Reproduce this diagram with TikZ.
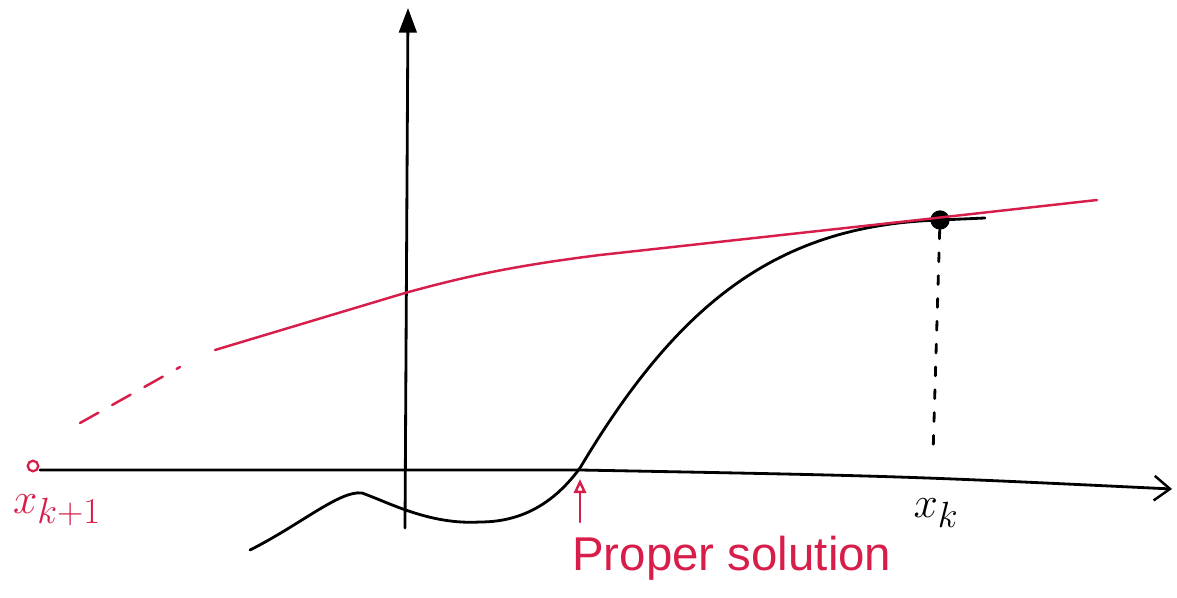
\documentclass[tikz,border=0pt]{standalone}
\usepackage{fontspec}
\setsansfont{Liberation Sans}
\usetikzlibrary{arrows.meta}
\definecolor{pen}{RGB}{215,30,75}
\tikzset{
  ink/.style={black, line width=1.6pt, line cap=round, line join=round},
  redink/.style={pen, line width=1.4pt, line cap=round, line join=round},
  lbl/.style={inner sep=0pt},
}
\begin{document}
\begin{tikzpicture}[x=0.02cm, y=-0.02cm]
\useasboundingbox (0,0) rectangle (1177,598);
% axes
\coordinate (xs) at (40,470);
\coordinate (xm) at (580,470);
\coordinate (xe) at (1172,489);
\draw[ink, -{Straight Barb[length=9pt, width=14pt, line width=1.4pt]}] (xs) -- (xm) .. controls (900,476) .. (xe);
\coordinate (ys) at (405,528);
\coordinate (ye) at (408,8);
\draw[ink, -{Triangle[length=14pt, width=10pt]}] (ys) -- (ye);
% black curve
\coordinate (c0) at (250,550);
\coordinate (c1) at (362,493);
\coordinate (c2) at (480,522);
\coordinate (c3) at (580,468);
\coordinate (c4) at (940,220);
\coordinate (c5) at (985,218);
\draw[ink] (c0) .. controls (300,525) and (340,490) .. (c1)
  .. controls (390,503) and (430,525) .. (c2)
  .. controls (530,522) and (560,495) .. (c3)
  .. controls (680,300) and (780,225) .. (c4)
  -- (c5);
\node[circle, fill=black, minimum size=11pt, inner sep=0pt] (xk) at (c4) {};
% red tangent
\coordinate (t0) at (215,350);
\coordinate (t1) at (1097,200);
\draw[redink] (t0) -- (405,293) .. controls (470,275) and (520,265) .. (600,255) -- (900,222) -- (t1);
\coordinate (d0) at (80,423);
\coordinate (d1) at (180,367);
\draw[redink, dash pattern=on 12pt off 9pt] (d0) -- (d1);
\node[circle, draw=pen, line width=1.3pt, minimum size=6pt, inner sep=0pt] (xk1) at (33,466) {};
% labels
\node[lbl, pen, font=\fontsize{30}{34}\selectfont] (lk1) at (57,510) {$x_{k+1}$};
\draw[ink, dash pattern=on 5pt off 8pt] (xk) -- (933,455);
\node[lbl, font=\fontsize{30}{34}\selectfont] (lk) at (936,513) {$x_k$};
\coordinate (pa0) at (580,522);
\coordinate (pa1) at (580,479);
\draw[redink, -{Triangle[open, length=8pt, width=7pt]}] (pa0) -- (pa1);
\node[lbl, pen, anchor=base west, font=\sffamily\fontsize{27}{32}\selectfont] (ps) at (572,570) {Proper solution};
\end{tikzpicture}
\end{document}
